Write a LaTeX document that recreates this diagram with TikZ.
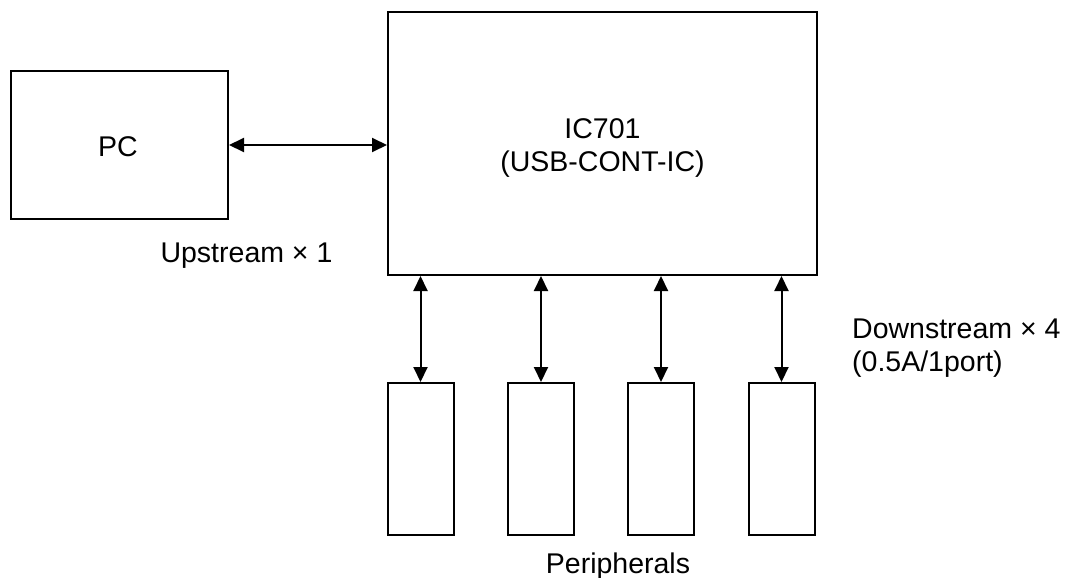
\documentclass[tikz,border=0pt]{standalone}
\usepackage{fontspec}
\setmainfont{Liberation Sans}
\usetikzlibrary{arrows.meta}
\begin{document}
\begin{tikzpicture}[x=1pt,y=-1pt,
  box/.style={draw,line width=2pt,inner sep=0pt,minimum width=#1},
  lbl/.style={inner sep=0pt,font=\fontsize{28.5}{33}\selectfont},
  link/.style={line width=2pt,{Triangle[length=15pt,width=14pt]}-{Triangle[length=15pt,width=14pt]}}]
\useasboundingbox (0,0) rectangle (1071,578);
\node[box=217pt,minimum height=148pt] (pc) at (119.5,145) {};
\node[lbl] (pct) at (118,146.5) {PC};
\node[box=429pt,minimum height=263pt] (ic) at (602.5,143.5) {};
\node[lbl,align=center] (ict) at (602.5,148) {IC701\\(USB-CONT-IC)};
\foreach \i/\x in {1/420.5,2/541,3/661,4/781.5}{
  \node[box=66pt,minimum height=152pt] (p\i) at (\x,459) {};
  \draw[link] (ic.south -| p\i.north) -- (p\i.north);
}
\draw[link] (pc.east) -- (ic.west |- pc.east);
\node[lbl,anchor=base] (up) at (246.5,262) {Upstream × 1};
\node[lbl,anchor=west,align=left] (down) at (852,348.5) {Downstream × 4\\(0.5A/1port)};
\node[lbl,anchor=base] (per) at (618,573.5) {Peripherals};
\end{tikzpicture}
\end{document}
